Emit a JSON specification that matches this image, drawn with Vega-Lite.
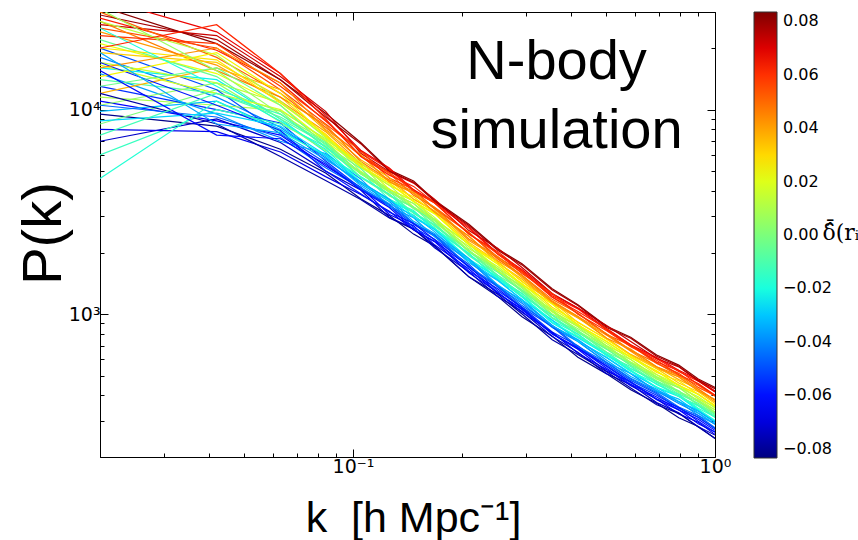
{
"$schema": "https://vega.github.io/schema/vega-lite/v6.json",
"width": 615,
"height": 445,
"autosize": {"type": "none"},
"padding": {"left": 100, "top": 12, "right": 143, "bottom": 83},
"background": "white",
"config": {"view": {"stroke": null}, "font": "DejaVu Sans"},
"datasets": {
"lines": [
{"s":1,"d":-0.082},{"s":2,"d":0.082},{"s":3,"d":-0.041},{"s":4,"d":0.041},{"s":5,"d":0},{"s":6,"d":-0.064},{"s":7,"d":0.064},{"s":8,"d":-0.023},{"s":9,"d":0.023},{"s":10,"d":-0.073},{"s":11,"d":0.073},{"s":12,"d":-0.009},{"s":13,"d":0.009},{"s":14,"d":-0.05},{"s":15,"d":0.05},{"s":16,"d":-0.032},{"s":17,"d":0.032},{"s":18,"d":-0.055},{"s":19,"d":0.055},{"s":20,"d":-0.014},{"s":21,"d":0.014},{"s":22,"d":-0.068},{"s":23,"d":0.068},{"s":24,"d":-0.037},{"s":25,"d":0.037},{"s":26,"d":-0.005},{"s":27,"d":0.005},{"s":28,"d":-0.078},{"s":29,"d":0.078},{"s":30,"d":-0.046},{"s":31,"d":0.046},{"s":32,"d":-0.018},{"s":33,"d":0.018},{"s":34,"d":-0.059},{"s":35,"d":0.059},{"s":36,"d":-0.028},{"s":37,"d":0.028},{"s":38,"d":0.012},{"s":39,"d":-0.003},{"s":40,"d":0.025},{"s":41,"d":-0.02},{"s":42,"d":0.043},{"s":43,"d":-0.035},{"s":44,"d":0.006},{"s":45,"d":-0.061},{"s":46,"d":0.062},{"s":47,"d":-0.012}
],
"label": [
{"t":"N-body","k":0.365,"p":14100},
{"t":"simulation","k":0.365,"p":6500}
],
"ctitle": [
{"t":"δ̂̄(rᵢ)","k":1.98,"p":2480}
],
"pk": [
{"s":1,"k":0.02,"p":9500},{"s":1,"k":0.042,"p":8300},{"s":1,"k":0.063,"p":6400},{"s":1,"k":0.084,"p":4900},{"s":1,"k":0.105,"p":3660},{"s":1,"k":0.126,"p":3030},{"s":1,"k":0.147,"p":2460},{"s":1,"k":0.168,"p":2150},{"s":1,"k":0.209,"p":1520},{"s":1,"k":0.251,"p":1220},{"s":1,"k":0.293,"p":970},{"s":1,"k":0.355,"p":780},{"s":1,"k":0.418,"p":615},{"s":1,"k":0.502,"p":510},{"s":1,"k":0.585,"p":426},{"s":1,"k":0.69,"p":366},{"s":1,"k":0.794,"p":311},{"s":1,"k":0.899,"p":282},{"s":1,"k":1,"p":246},
{"s":2,"k":0.02,"p":32000},{"s":2,"k":0.042,"p":21000},{"s":2,"k":0.063,"p":14000},{"s":2,"k":0.084,"p":9600},{"s":2,"k":0.105,"p":6900},{"s":2,"k":0.126,"p":5070},{"s":2,"k":0.147,"p":4470},{"s":2,"k":0.168,"p":3600},{"s":2,"k":0.209,"p":2750},{"s":2,"k":0.251,"p":2080},{"s":2,"k":0.293,"p":1760},{"s":2,"k":0.355,"p":1330},{"s":2,"k":0.418,"p":1110},{"s":2,"k":0.502,"p":871},{"s":2,"k":0.585,"p":771},{"s":2,"k":0.69,"p":631},{"s":2,"k":0.794,"p":563},{"s":2,"k":0.899,"p":481},{"s":2,"k":1,"p":438},
{"s":3,"k":0.02,"p":18000},{"s":3,"k":0.042,"p":11500},{"s":3,"k":0.063,"p":8200},{"s":3,"k":0.084,"p":5800},{"s":3,"k":0.105,"p":4340},{"s":3,"k":0.126,"p":3550},{"s":3,"k":0.147,"p":2780},{"s":3,"k":0.168,"p":2430},{"s":3,"k":0.209,"p":1830},{"s":3,"k":0.251,"p":1360},{"s":3,"k":0.293,"p":1130},{"s":3,"k":0.355,"p":859},{"s":3,"k":0.418,"p":735},{"s":3,"k":0.502,"p":582},{"s":3,"k":0.585,"p":485},{"s":3,"k":0.69,"p":421},{"s":3,"k":0.794,"p":365},{"s":3,"k":0.899,"p":327},{"s":3,"k":1,"p":289},
{"s":4,"k":0.02,"p":24000},{"s":4,"k":0.042,"p":16500},{"s":4,"k":0.063,"p":11000},{"s":4,"k":0.084,"p":7800},{"s":4,"k":0.105,"p":5470},{"s":4,"k":0.126,"p":4450},{"s":4,"k":0.147,"p":3920},{"s":4,"k":0.168,"p":3260},{"s":4,"k":0.209,"p":2290},{"s":4,"k":0.251,"p":1880},{"s":4,"k":0.293,"p":1510},{"s":4,"k":0.355,"p":1130},{"s":4,"k":0.418,"p":956},{"s":4,"k":0.502,"p":787},{"s":4,"k":0.585,"p":657},{"s":4,"k":0.69,"p":542},{"s":4,"k":0.794,"p":494},{"s":4,"k":0.899,"p":422},{"s":4,"k":1,"p":372},
{"s":5,"k":0.02,"p":8500},{"s":5,"k":0.042,"p":12500},{"s":5,"k":0.063,"p":9800},{"s":5,"k":0.084,"p":6500},{"s":5,"k":0.105,"p":4850},{"s":5,"k":0.126,"p":4020},{"s":5,"k":0.147,"p":3270},{"s":5,"k":0.168,"p":2860},{"s":5,"k":0.209,"p":2010},{"s":5,"k":0.251,"p":1620},{"s":5,"k":0.293,"p":1290},{"s":5,"k":0.355,"p":1030},{"s":5,"k":0.418,"p":813},{"s":5,"k":0.502,"p":677},{"s":5,"k":0.585,"p":564},{"s":5,"k":0.69,"p":485},{"s":5,"k":0.794,"p":412},{"s":5,"k":0.899,"p":374},{"s":5,"k":1,"p":327},
{"s":6,"k":0.02,"p":11000},{"s":6,"k":0.042,"p":8800},{"s":6,"k":0.063,"p":7500},{"s":6,"k":0.084,"p":5300},{"s":6,"k":0.105,"p":4170},{"s":6,"k":0.126,"p":3070},{"s":6,"k":0.147,"p":2700},{"s":6,"k":0.168,"p":2180},{"s":6,"k":0.209,"p":1660},{"s":6,"k":0.251,"p":1260},{"s":6,"k":0.293,"p":1060},{"s":6,"k":0.355,"p":802},{"s":6,"k":0.418,"p":673},{"s":6,"k":0.502,"p":526},{"s":6,"k":0.585,"p":466},{"s":6,"k":0.69,"p":381},{"s":6,"k":0.794,"p":340},{"s":6,"k":0.899,"p":291},{"s":6,"k":1,"p":265},
{"s":7,"k":0.02,"p":28000},{"s":7,"k":0.042,"p":19500},{"s":7,"k":0.063,"p":13500},{"s":7,"k":0.084,"p":8800},{"s":7,"k":0.105,"p":6240},{"s":7,"k":0.126,"p":5110},{"s":7,"k":0.147,"p":3990},{"s":7,"k":0.168,"p":3490},{"s":7,"k":0.209,"p":2630},{"s":7,"k":0.251,"p":1960},{"s":7,"k":0.293,"p":1620},{"s":7,"k":0.355,"p":1230},{"s":7,"k":0.418,"p":1060},{"s":7,"k":0.502,"p":835},{"s":7,"k":0.585,"p":697},{"s":7,"k":0.69,"p":605},{"s":7,"k":0.794,"p":524},{"s":7,"k":0.899,"p":470},{"s":7,"k":1,"p":416},
{"s":8,"k":0.02,"p":16000},{"s":8,"k":0.042,"p":14000},{"s":8,"k":0.063,"p":9000},{"s":8,"k":0.084,"p":6200},{"s":8,"k":0.105,"p":4390},{"s":8,"k":0.126,"p":3570},{"s":8,"k":0.147,"p":3140},{"s":8,"k":0.168,"p":2610},{"s":8,"k":0.209,"p":1840},{"s":8,"k":0.251,"p":1510},{"s":8,"k":0.293,"p":1210},{"s":8,"k":0.355,"p":905},{"s":8,"k":0.418,"p":767},{"s":8,"k":0.502,"p":631},{"s":8,"k":0.585,"p":527},{"s":8,"k":0.69,"p":435},{"s":8,"k":0.794,"p":396},{"s":8,"k":0.899,"p":339},{"s":8,"k":1,"p":299},
{"s":9,"k":0.02,"p":21000},{"s":9,"k":0.042,"p":15000},{"s":9,"k":0.063,"p":10500},{"s":9,"k":0.084,"p":7000},{"s":9,"k":0.105,"p":5250},{"s":9,"k":0.126,"p":4350},{"s":9,"k":0.147,"p":3540},{"s":9,"k":0.168,"p":3090},{"s":9,"k":0.209,"p":2180},{"s":9,"k":0.251,"p":1750},{"s":9,"k":0.293,"p":1390},{"s":9,"k":0.355,"p":1120},{"s":9,"k":0.418,"p":881},{"s":9,"k":0.502,"p":733},{"s":9,"k":0.585,"p":611},{"s":9,"k":0.69,"p":525},{"s":9,"k":0.794,"p":446},{"s":9,"k":0.899,"p":405},{"s":9,"k":1,"p":353},
{"s":10,"k":0.02,"p":7000},{"s":10,"k":0.042,"p":9000},{"s":10,"k":0.063,"p":6900},{"s":10,"k":0.084,"p":5000},{"s":10,"k":0.105,"p":4040},{"s":10,"k":0.126,"p":2970},{"s":10,"k":0.147,"p":2620},{"s":10,"k":0.168,"p":2110},{"s":10,"k":0.209,"p":1610},{"s":10,"k":0.251,"p":1220},{"s":10,"k":0.293,"p":1030},{"s":10,"k":0.355,"p":777},{"s":10,"k":0.418,"p":651},{"s":10,"k":0.502,"p":511},{"s":10,"k":0.585,"p":452},{"s":10,"k":0.69,"p":369},{"s":10,"k":0.794,"p":329},{"s":10,"k":0.899,"p":281},{"s":10,"k":1,"p":256},
{"s":11,"k":0.02,"p":26000},{"s":11,"k":0.042,"p":23000},{"s":11,"k":0.063,"p":14500},{"s":11,"k":0.084,"p":9800},{"s":11,"k":0.105,"p":6110},{"s":11,"k":0.126,"p":4970},{"s":11,"k":0.147,"p":4370},{"s":11,"k":0.168,"p":3640},{"s":11,"k":0.209,"p":2560},{"s":11,"k":0.251,"p":2100},{"s":11,"k":0.293,"p":1690},{"s":11,"k":0.355,"p":1260},{"s":11,"k":0.418,"p":1070},{"s":11,"k":0.502,"p":879},{"s":11,"k":0.585,"p":734},{"s":11,"k":0.69,"p":606},{"s":11,"k":0.794,"p":552},{"s":11,"k":0.899,"p":471},{"s":11,"k":1,"p":417},
{"s":12,"k":0.02,"p":14000},{"s":12,"k":0.042,"p":12000},{"s":12,"k":0.063,"p":9200},{"s":12,"k":0.084,"p":6900},{"s":12,"k":0.105,"p":4850},{"s":12,"k":0.126,"p":3970},{"s":12,"k":0.147,"p":3100},{"s":12,"k":0.168,"p":2710},{"s":12,"k":0.209,"p":2050},{"s":12,"k":0.251,"p":1520},{"s":12,"k":0.293,"p":1260},{"s":12,"k":0.355,"p":959},{"s":12,"k":0.418,"p":820},{"s":12,"k":0.502,"p":649},{"s":12,"k":0.585,"p":541},{"s":12,"k":0.69,"p":470},{"s":12,"k":0.794,"p":407},{"s":12,"k":0.899,"p":366},{"s":12,"k":1,"p":323},
{"s":13,"k":0.02,"p":11500},{"s":13,"k":0.042,"p":10500},{"s":13,"k":0.063,"p":9900},{"s":13,"k":0.084,"p":7200},{"s":13,"k":0.105,"p":5370},{"s":13,"k":0.126,"p":3940},{"s":13,"k":0.147,"p":3470},{"s":13,"k":0.168,"p":2800},{"s":13,"k":0.209,"p":2140},{"s":13,"k":0.251,"p":1620},{"s":13,"k":0.293,"p":1370},{"s":13,"k":0.355,"p":1030},{"s":13,"k":0.418,"p":866},{"s":13,"k":0.502,"p":677},{"s":13,"k":0.585,"p":600},{"s":13,"k":0.69,"p":490},{"s":13,"k":0.794,"p":437},{"s":13,"k":0.899,"p":374},{"s":13,"k":1,"p":341},
{"s":14,"k":0.02,"p":20000},{"s":14,"k":0.042,"p":12500},{"s":14,"k":0.063,"p":7600},{"s":14,"k":0.084,"p":5500},{"s":14,"k":0.105,"p":4080},{"s":14,"k":0.126,"p":3380},{"s":14,"k":0.147,"p":2750},{"s":14,"k":0.168,"p":2400},{"s":14,"k":0.209,"p":1690},{"s":14,"k":0.251,"p":1360},{"s":14,"k":0.293,"p":1080},{"s":14,"k":0.355,"p":866},{"s":14,"k":0.418,"p":684},{"s":14,"k":0.502,"p":569},{"s":14,"k":0.585,"p":474},{"s":14,"k":0.69,"p":408},{"s":14,"k":0.794,"p":346},{"s":14,"k":0.899,"p":314},{"s":14,"k":1,"p":275},
{"s":15,"k":0.02,"p":30000},{"s":15,"k":0.042,"p":18000},{"s":15,"k":0.063,"p":12000},{"s":15,"k":0.084,"p":8200},{"s":15,"k":0.105,"p":5950},{"s":15,"k":0.126,"p":4870},{"s":15,"k":0.147,"p":3810},{"s":15,"k":0.168,"p":3330},{"s":15,"k":0.209,"p":2510},{"s":15,"k":0.251,"p":1860},{"s":15,"k":0.293,"p":1550},{"s":15,"k":0.355,"p":1180},{"s":15,"k":0.418,"p":1010},{"s":15,"k":0.502,"p":797},{"s":15,"k":0.585,"p":664},{"s":15,"k":0.69,"p":577},{"s":15,"k":0.794,"p":499},{"s":15,"k":0.899,"p":449},{"s":15,"k":1,"p":396},
{"s":16,"k":0.02,"p":9800},{"s":16,"k":0.042,"p":11000},{"s":16,"k":0.063,"p":8000},{"s":16,"k":0.084,"p":5900},{"s":16,"k":0.105,"p":4250},{"s":16,"k":0.126,"p":3460},{"s":16,"k":0.147,"p":3040},{"s":16,"k":0.168,"p":2530},{"s":16,"k":0.209,"p":1780},{"s":16,"k":0.251,"p":1460},{"s":16,"k":0.293,"p":1180},{"s":16,"k":0.355,"p":877},{"s":16,"k":0.418,"p":743},{"s":16,"k":0.502,"p":612},{"s":16,"k":0.585,"p":510},{"s":16,"k":0.69,"p":421},{"s":16,"k":0.794,"p":384},{"s":16,"k":0.899,"p":328},{"s":16,"k":1,"p":289},
{"s":17,"k":0.02,"p":19000},{"s":17,"k":0.042,"p":17000},{"s":17,"k":0.063,"p":11500},{"s":17,"k":0.084,"p":7500},{"s":17,"k":0.105,"p":5420},{"s":17,"k":0.126,"p":4490},{"s":17,"k":0.147,"p":3650},{"s":17,"k":0.168,"p":3190},{"s":17,"k":0.209,"p":2240},{"s":17,"k":0.251,"p":1800},{"s":17,"k":0.293,"p":1440},{"s":17,"k":0.355,"p":1150},{"s":17,"k":0.418,"p":909},{"s":17,"k":0.502,"p":755},{"s":17,"k":0.585,"p":631},{"s":17,"k":0.69,"p":541},{"s":17,"k":0.794,"p":460},{"s":17,"k":0.899,"p":417},{"s":17,"k":1,"p":365},
{"s":18,"k":0.02,"p":13000},{"s":18,"k":0.042,"p":10000},{"s":18,"k":0.063,"p":8600},{"s":18,"k":0.084,"p":5600},{"s":18,"k":0.105,"p":4140},{"s":18,"k":0.126,"p":3390},{"s":18,"k":0.147,"p":2650},{"s":18,"k":0.168,"p":2320},{"s":18,"k":0.209,"p":1750},{"s":18,"k":0.251,"p":1300},{"s":18,"k":0.293,"p":1080},{"s":18,"k":0.355,"p":818},{"s":18,"k":0.418,"p":700},{"s":18,"k":0.502,"p":554},{"s":18,"k":0.585,"p":462},{"s":18,"k":0.69,"p":401},{"s":18,"k":0.794,"p":347},{"s":18,"k":0.899,"p":312},{"s":18,"k":1,"p":276},
{"s":19,"k":0.02,"p":25000},{"s":19,"k":0.042,"p":20000},{"s":19,"k":0.063,"p":12500},{"s":19,"k":0.084,"p":8500},{"s":19,"k":0.105,"p":6290},{"s":19,"k":0.126,"p":4620},{"s":19,"k":0.147,"p":4070},{"s":19,"k":0.168,"p":3280},{"s":19,"k":0.209,"p":2500},{"s":19,"k":0.251,"p":1900},{"s":19,"k":0.293,"p":1600},{"s":19,"k":0.355,"p":1210},{"s":19,"k":0.418,"p":1010},{"s":19,"k":0.502,"p":794},{"s":19,"k":0.585,"p":703},{"s":19,"k":0.69,"p":574},{"s":19,"k":0.794,"p":513},{"s":19,"k":0.899,"p":438},{"s":19,"k":1,"p":399},
{"s":20,"k":0.02,"p":6000},{"s":20,"k":0.042,"p":10000},{"s":20,"k":0.063,"p":8500},{"s":20,"k":0.084,"p":6600},{"s":20,"k":0.105,"p":4960},{"s":20,"k":0.126,"p":3640},{"s":20,"k":0.147,"p":3210},{"s":20,"k":0.168,"p":2590},{"s":20,"k":0.209,"p":1970},{"s":20,"k":0.251,"p":1490},{"s":20,"k":0.293,"p":1260},{"s":20,"k":0.355,"p":953},{"s":20,"k":0.418,"p":799},{"s":20,"k":0.502,"p":626},{"s":20,"k":0.585,"p":554},{"s":20,"k":0.69,"p":452},{"s":20,"k":0.794,"p":404},{"s":20,"k":0.899,"p":346},{"s":20,"k":1,"p":314},
{"s":21,"k":0.02,"p":17000},{"s":21,"k":0.042,"p":13500},{"s":21,"k":0.063,"p":10800},{"s":21,"k":0.084,"p":7400},{"s":21,"k":0.105,"p":4990},{"s":21,"k":0.126,"p":4050},{"s":21,"k":0.147,"p":3570},{"s":21,"k":0.168,"p":2970},{"s":21,"k":0.209,"p":2090},{"s":21,"k":0.251,"p":1710},{"s":21,"k":0.293,"p":1380},{"s":21,"k":0.355,"p":1030},{"s":21,"k":0.418,"p":872},{"s":21,"k":0.502,"p":718},{"s":21,"k":0.585,"p":599},{"s":21,"k":0.69,"p":494},{"s":21,"k":0.794,"p":450},{"s":21,"k":0.899,"p":385},{"s":21,"k":1,"p":340},
{"s":22,"k":0.02,"p":8000},{"s":22,"k":0.042,"p":7800},{"s":22,"k":0.063,"p":6200},{"s":22,"k":0.084,"p":4700},{"s":22,"k":0.105,"p":3840},{"s":22,"k":0.126,"p":3180},{"s":22,"k":0.147,"p":2580},{"s":22,"k":0.168,"p":2260},{"s":22,"k":0.209,"p":1590},{"s":22,"k":0.251,"p":1280},{"s":22,"k":0.293,"p":1020},{"s":22,"k":0.355,"p":815},{"s":22,"k":0.418,"p":644},{"s":22,"k":0.502,"p":535},{"s":22,"k":0.585,"p":446},{"s":22,"k":0.69,"p":384},{"s":22,"k":0.794,"p":325},{"s":22,"k":0.899,"p":296},{"s":22,"k":1,"p":258},
{"s":23,"k":0.02,"p":35000},{"s":23,"k":0.042,"p":24000},{"s":23,"k":0.063,"p":15000},{"s":23,"k":0.084,"p":9400},{"s":23,"k":0.105,"p":6330},{"s":23,"k":0.126,"p":5180},{"s":23,"k":0.147,"p":4050},{"s":23,"k":0.168,"p":3540},{"s":23,"k":0.209,"p":2670},{"s":23,"k":0.251,"p":1980},{"s":23,"k":0.293,"p":1650},{"s":23,"k":0.355,"p":1250},{"s":23,"k":0.418,"p":1070},{"s":23,"k":0.502,"p":848},{"s":23,"k":0.585,"p":707},{"s":23,"k":0.69,"p":613},{"s":23,"k":0.794,"p":531},{"s":23,"k":0.899,"p":477},{"s":23,"k":1,"p":421},
{"s":24,"k":0.02,"p":15000},{"s":24,"k":0.042,"p":9500},{"s":24,"k":0.063,"p":7000},{"s":24,"k":0.084,"p":6100},{"s":24,"k":0.105,"p":4580},{"s":24,"k":0.126,"p":3360},{"s":24,"k":0.147,"p":2960},{"s":24,"k":0.168,"p":2390},{"s":24,"k":0.209,"p":1820},{"s":24,"k":0.251,"p":1380},{"s":24,"k":0.293,"p":1170},{"s":24,"k":0.355,"p":880},{"s":24,"k":0.418,"p":737},{"s":24,"k":0.502,"p":578},{"s":24,"k":0.585,"p":512},{"s":24,"k":0.69,"p":418},{"s":24,"k":0.794,"p":374},{"s":24,"k":0.899,"p":319},{"s":24,"k":1,"p":290},
{"s":25,"k":0.02,"p":12000},{"s":25,"k":0.042,"p":16000},{"s":25,"k":0.063,"p":12500},{"s":25,"k":0.084,"p":7900},{"s":25,"k":0.105,"p":5690},{"s":25,"k":0.126,"p":4660},{"s":25,"k":0.147,"p":3640},{"s":25,"k":0.168,"p":3180},{"s":25,"k":0.209,"p":2400},{"s":25,"k":0.251,"p":1780},{"s":25,"k":0.293,"p":1480},{"s":25,"k":0.355,"p":1130},{"s":25,"k":0.418,"p":963},{"s":25,"k":0.502,"p":762},{"s":25,"k":0.585,"p":635},{"s":25,"k":0.69,"p":551},{"s":25,"k":0.794,"p":478},{"s":25,"k":0.899,"p":429},{"s":25,"k":1,"p":379},
{"s":26,"k":0.02,"p":22000},{"s":26,"k":0.042,"p":14500},{"s":26,"k":0.063,"p":9000},{"s":26,"k":0.084,"p":6800},{"s":26,"k":0.105,"p":4670},{"s":26,"k":0.126,"p":3800},{"s":26,"k":0.147,"p":3340},{"s":26,"k":0.168,"p":2780},{"s":26,"k":0.209,"p":1950},{"s":26,"k":0.251,"p":1600},{"s":26,"k":0.293,"p":1290},{"s":26,"k":0.355,"p":963},{"s":26,"k":0.418,"p":816},{"s":26,"k":0.502,"p":672},{"s":26,"k":0.585,"p":560},{"s":26,"k":0.69,"p":463},{"s":26,"k":0.794,"p":421},{"s":26,"k":0.899,"p":360},{"s":26,"k":1,"p":318},
{"s":27,"k":0.02,"p":10500},{"s":27,"k":0.042,"p":13500},{"s":27,"k":0.063,"p":8700},{"s":27,"k":0.084,"p":6300},{"s":27,"k":0.105,"p":4930},{"s":27,"k":0.126,"p":4090},{"s":27,"k":0.147,"p":3320},{"s":27,"k":0.168,"p":2900},{"s":27,"k":0.209,"p":2040},{"s":27,"k":0.251,"p":1640},{"s":27,"k":0.293,"p":1310},{"s":27,"k":0.355,"p":1050},{"s":27,"k":0.418,"p":827},{"s":27,"k":0.502,"p":688},{"s":27,"k":0.585,"p":574},{"s":27,"k":0.69,"p":493},{"s":27,"k":0.794,"p":418},{"s":27,"k":0.899,"p":380},{"s":27,"k":1,"p":332},
{"s":28,"k":0.02,"p":12000},{"s":28,"k":0.042,"p":8500},{"s":28,"k":0.063,"p":5900},{"s":28,"k":0.084,"p":4500},{"s":28,"k":0.105,"p":3630},{"s":28,"k":0.126,"p":2950},{"s":28,"k":0.147,"p":2600},{"s":28,"k":0.168,"p":2160},{"s":28,"k":0.209,"p":1520},{"s":28,"k":0.251,"p":1250},{"s":28,"k":0.293,"p":1000},{"s":28,"k":0.355,"p":749},{"s":28,"k":0.418,"p":634},{"s":28,"k":0.502,"p":522},{"s":28,"k":0.585,"p":435},{"s":28,"k":0.69,"p":360},{"s":28,"k":0.794,"p":327},{"s":28,"k":0.899,"p":280},{"s":28,"k":1,"p":247},
{"s":29,"k":0.02,"p":29000},{"s":29,"k":0.042,"p":22000},{"s":29,"k":0.063,"p":14000},{"s":29,"k":0.084,"p":9200},{"s":29,"k":0.105,"p":6810},{"s":29,"k":0.126,"p":5000},{"s":29,"k":0.147,"p":4410},{"s":29,"k":0.168,"p":3560},{"s":29,"k":0.209,"p":2710},{"s":29,"k":0.251,"p":2050},{"s":29,"k":0.293,"p":1740},{"s":29,"k":0.355,"p":1310},{"s":29,"k":0.418,"p":1100},{"s":29,"k":0.502,"p":859},{"s":29,"k":0.585,"p":761},{"s":29,"k":0.69,"p":622},{"s":29,"k":0.794,"p":556},{"s":29,"k":0.899,"p":474},{"s":29,"k":1,"p":432},
{"s":30,"k":0.02,"p":10500},{"s":30,"k":0.042,"p":9200},{"s":30,"k":0.063,"p":7300},{"s":30,"k":0.084,"p":5200},{"s":30,"k":0.105,"p":4140},{"s":30,"k":0.126,"p":3430},{"s":30,"k":0.147,"p":2790},{"s":30,"k":0.168,"p":2440},{"s":30,"k":0.209,"p":1710},{"s":30,"k":0.251,"p":1380},{"s":30,"k":0.293,"p":1100},{"s":30,"k":0.355,"p":879},{"s":30,"k":0.418,"p":694},{"s":30,"k":0.502,"p":578},{"s":30,"k":0.585,"p":481},{"s":30,"k":0.69,"p":413},{"s":30,"k":0.794,"p":351},{"s":30,"k":0.899,"p":319},{"s":30,"k":1,"p":278},
{"s":31,"k":0.02,"p":27000},{"s":31,"k":0.042,"p":15500},{"s":31,"k":0.063,"p":11500},{"s":31,"k":0.084,"p":8400},{"s":31,"k":0.105,"p":5570},{"s":31,"k":0.126,"p":4530},{"s":31,"k":0.147,"p":3980},{"s":31,"k":0.168,"p":3310},{"s":31,"k":0.209,"p":2330},{"s":31,"k":0.251,"p":1910},{"s":31,"k":0.293,"p":1540},{"s":31,"k":0.355,"p":1150},{"s":31,"k":0.418,"p":973},{"s":31,"k":0.502,"p":801},{"s":31,"k":0.585,"p":668},{"s":31,"k":0.69,"p":552},{"s":31,"k":0.794,"p":502},{"s":31,"k":0.899,"p":430},{"s":31,"k":1,"p":379},
{"s":32,"k":0.02,"p":4600},{"s":32,"k":0.042,"p":11000},{"s":32,"k":0.063,"p":7800},{"s":32,"k":0.084,"p":6000},{"s":32,"k":0.105,"p":4700},{"s":32,"k":0.126,"p":3850},{"s":32,"k":0.147,"p":3010},{"s":32,"k":0.168,"p":2630},{"s":32,"k":0.209,"p":1980},{"s":32,"k":0.251,"p":1470},{"s":32,"k":0.293,"p":1220},{"s":32,"k":0.355,"p":930},{"s":32,"k":0.418,"p":796},{"s":32,"k":0.502,"p":630},{"s":32,"k":0.585,"p":525},{"s":32,"k":0.69,"p":456},{"s":32,"k":0.794,"p":395},{"s":32,"k":0.899,"p":355},{"s":32,"k":1,"p":313},
{"s":33,"k":0.02,"p":16500},{"s":33,"k":0.042,"p":12000},{"s":33,"k":0.063,"p":10000},{"s":33,"k":0.084,"p":7100},{"s":33,"k":0.105,"p":5530},{"s":33,"k":0.126,"p":4070},{"s":33,"k":0.147,"p":3580},{"s":33,"k":0.168,"p":2890},{"s":33,"k":0.209,"p":2200},{"s":33,"k":0.251,"p":1670},{"s":33,"k":0.293,"p":1410},{"s":33,"k":0.355,"p":1060},{"s":33,"k":0.418,"p":892},{"s":33,"k":0.502,"p":699},{"s":33,"k":0.585,"p":618},{"s":33,"k":0.69,"p":506},{"s":33,"k":0.794,"p":451},{"s":33,"k":0.899,"p":386},{"s":33,"k":1,"p":351},
{"s":34,"k":0.02,"p":17000},{"s":34,"k":0.042,"p":10500},{"s":34,"k":0.063,"p":7900},{"s":34,"k":0.084,"p":5000},{"s":34,"k":0.105,"p":3880},{"s":34,"k":0.126,"p":3150},{"s":34,"k":0.147,"p":2770},{"s":34,"k":0.168,"p":2310},{"s":34,"k":0.209,"p":1620},{"s":34,"k":0.251,"p":1330},{"s":34,"k":0.293,"p":1070},{"s":34,"k":0.355,"p":799},{"s":34,"k":0.418,"p":677},{"s":34,"k":0.502,"p":558},{"s":34,"k":0.585,"p":465},{"s":34,"k":0.69,"p":384},{"s":34,"k":0.794,"p":350},{"s":34,"k":0.899,"p":299},{"s":34,"k":1,"p":264},
{"s":35,"k":0.02,"p":23000},{"s":35,"k":0.042,"p":21000},{"s":35,"k":0.063,"p":13000},{"s":35,"k":0.084,"p":8900},{"s":35,"k":0.105,"p":5950},{"s":35,"k":0.126,"p":4920},{"s":35,"k":0.147,"p":4010},{"s":35,"k":0.168,"p":3500},{"s":35,"k":0.209,"p":2460},{"s":35,"k":0.251,"p":1980},{"s":35,"k":0.293,"p":1580},{"s":35,"k":0.355,"p":1260},{"s":35,"k":0.418,"p":998},{"s":35,"k":0.502,"p":829},{"s":35,"k":0.585,"p":692},{"s":35,"k":0.69,"p":594},{"s":35,"k":0.794,"p":505},{"s":35,"k":0.899,"p":458},{"s":35,"k":1,"p":401},
{"s":36,"k":0.02,"p":8800},{"s":36,"k":0.042,"p":9600},{"s":36,"k":0.063,"p":8300},{"s":36,"k":0.084,"p":6000},{"s":36,"k":0.105,"p":4400},{"s":36,"k":0.126,"p":3650},{"s":36,"k":0.147,"p":2970},{"s":36,"k":0.168,"p":2590},{"s":36,"k":0.209,"p":1820},{"s":36,"k":0.251,"p":1470},{"s":36,"k":0.293,"p":1170},{"s":36,"k":0.355,"p":935},{"s":36,"k":0.418,"p":739},{"s":36,"k":0.502,"p":614},{"s":36,"k":0.585,"p":513},{"s":36,"k":0.69,"p":440},{"s":36,"k":0.794,"p":373},{"s":36,"k":0.899,"p":339},{"s":36,"k":1,"p":297},
{"s":37,"k":0.02,"p":20000},{"s":37,"k":0.042,"p":17500},{"s":37,"k":0.063,"p":10800},{"s":37,"k":0.084,"p":7600},{"s":37,"k":0.105,"p":5230},{"s":37,"k":0.126,"p":4250},{"s":37,"k":0.147,"p":3750},{"s":37,"k":0.168,"p":3120},{"s":37,"k":0.209,"p":2190},{"s":37,"k":0.251,"p":1800},{"s":37,"k":0.293,"p":1450},{"s":37,"k":0.355,"p":1080},{"s":37,"k":0.418,"p":915},{"s":37,"k":0.502,"p":753},{"s":37,"k":0.585,"p":628},{"s":37,"k":0.69,"p":518},{"s":37,"k":0.794,"p":472},{"s":37,"k":0.899,"p":404},{"s":37,"k":1,"p":357},
{"s":38,"k":0.02,"p":27000},{"s":38,"k":0.042,"p":18500},{"s":38,"k":0.063,"p":11000},{"s":38,"k":0.084,"p":7300},{"s":38,"k":0.105,"p":5210},{"s":38,"k":0.126,"p":4270},{"s":38,"k":0.147,"p":3340},{"s":38,"k":0.168,"p":2920},{"s":38,"k":0.209,"p":2200},{"s":38,"k":0.251,"p":1630},{"s":38,"k":0.293,"p":1360},{"s":38,"k":0.355,"p":1030},{"s":38,"k":0.418,"p":882},{"s":38,"k":0.502,"p":698},{"s":38,"k":0.585,"p":582},{"s":38,"k":0.69,"p":505},{"s":38,"k":0.794,"p":438},{"s":38,"k":0.899,"p":394},{"s":38,"k":1,"p":347},
{"s":39,"k":0.02,"p":13000},{"s":39,"k":0.042,"p":16000},{"s":39,"k":0.063,"p":10500},{"s":39,"k":0.084,"p":6700},{"s":39,"k":0.105,"p":5150},{"s":39,"k":0.126,"p":3780},{"s":39,"k":0.147,"p":3330},{"s":39,"k":0.168,"p":2690},{"s":39,"k":0.209,"p":2050},{"s":39,"k":0.251,"p":1550},{"s":39,"k":0.293,"p":1310},{"s":39,"k":0.355,"p":990},{"s":39,"k":0.418,"p":830},{"s":39,"k":0.502,"p":650},{"s":39,"k":0.585,"p":575},{"s":39,"k":0.69,"p":470},{"s":39,"k":0.794,"p":420},{"s":39,"k":0.899,"p":359},{"s":39,"k":1,"p":327},
{"s":40,"k":0.02,"p":14500},{"s":40,"k":0.042,"p":19000},{"s":40,"k":0.063,"p":12000},{"s":40,"k":0.084,"p":7400},{"s":40,"k":0.105,"p":5290},{"s":40,"k":0.126,"p":4380},{"s":40,"k":0.147,"p":3560},{"s":40,"k":0.168,"p":3110},{"s":40,"k":0.209,"p":2190},{"s":40,"k":0.251,"p":1760},{"s":40,"k":0.293,"p":1400},{"s":40,"k":0.355,"p":1120},{"s":40,"k":0.418,"p":887},{"s":40,"k":0.502,"p":737},{"s":40,"k":0.585,"p":615},{"s":40,"k":0.69,"p":528},{"s":40,"k":0.794,"p":449},{"s":40,"k":0.899,"p":407},{"s":40,"k":1,"p":356},
{"s":41,"k":0.02,"p":25000},{"s":41,"k":0.042,"p":13000},{"s":41,"k":0.063,"p":8800},{"s":41,"k":0.084,"p":6400},{"s":41,"k":0.105,"p":4430},{"s":41,"k":0.126,"p":3600},{"s":41,"k":0.147,"p":3170},{"s":41,"k":0.168,"p":2640},{"s":41,"k":0.209,"p":1860},{"s":41,"k":0.251,"p":1520},{"s":41,"k":0.293,"p":1230},{"s":41,"k":0.355,"p":914},{"s":41,"k":0.418,"p":774},{"s":41,"k":0.502,"p":638},{"s":41,"k":0.585,"p":532},{"s":41,"k":0.69,"p":439},{"s":41,"k":0.794,"p":400},{"s":41,"k":0.899,"p":342},{"s":41,"k":1,"p":302},
{"s":42,"k":0.02,"p":16000},{"s":42,"k":0.042,"p":20000},{"s":42,"k":0.063,"p":13500},{"s":42,"k":0.084,"p":8000},{"s":42,"k":0.105,"p":6030},{"s":42,"k":0.126,"p":4430},{"s":42,"k":0.147,"p":3900},{"s":42,"k":0.168,"p":3150},{"s":42,"k":0.209,"p":2400},{"s":42,"k":0.251,"p":1820},{"s":42,"k":0.293,"p":1540},{"s":42,"k":0.355,"p":1160},{"s":42,"k":0.418,"p":973},{"s":42,"k":0.502,"p":761},{"s":42,"k":0.585,"p":674},{"s":42,"k":0.69,"p":551},{"s":42,"k":0.794,"p":492},{"s":42,"k":0.899,"p":420},{"s":42,"k":1,"p":383},
{"s":43,"k":0.02,"p":19000},{"s":43,"k":0.042,"p":8500},{"s":43,"k":0.063,"p":7700},{"s":43,"k":0.084,"p":5700},{"s":43,"k":0.105,"p":4430},{"s":43,"k":0.126,"p":3630},{"s":43,"k":0.147,"p":2840},{"s":43,"k":0.168,"p":2480},{"s":43,"k":0.209,"p":1870},{"s":43,"k":0.251,"p":1390},{"s":43,"k":0.293,"p":1150},{"s":43,"k":0.355,"p":877},{"s":43,"k":0.418,"p":750},{"s":43,"k":0.502,"p":594},{"s":43,"k":0.585,"p":495},{"s":43,"k":0.69,"p":429},{"s":43,"k":0.794,"p":372},{"s":43,"k":0.899,"p":335},{"s":43,"k":1,"p":295},
{"s":44,"k":0.02,"p":31000},{"s":44,"k":0.042,"p":15500},{"s":44,"k":0.063,"p":9500},{"s":44,"k":0.084,"p":7000},{"s":44,"k":0.105,"p":4850},{"s":44,"k":0.126,"p":3940},{"s":44,"k":0.147,"p":3470},{"s":44,"k":0.168,"p":2890},{"s":44,"k":0.209,"p":2030},{"s":44,"k":0.251,"p":1670},{"s":44,"k":0.293,"p":1340},{"s":44,"k":0.355,"p":1000},{"s":44,"k":0.418,"p":847},{"s":44,"k":0.502,"p":698},{"s":44,"k":0.585,"p":582},{"s":44,"k":0.69,"p":480},{"s":44,"k":0.794,"p":438},{"s":44,"k":0.899,"p":374},{"s":44,"k":1,"p":330},
{"s":45,"k":0.02,"p":15500},{"s":45,"k":0.042,"p":7500},{"s":45,"k":0.063,"p":7200},{"s":45,"k":0.084,"p":5400},{"s":45,"k":0.105,"p":4050},{"s":45,"k":0.126,"p":3320},{"s":45,"k":0.147,"p":2590},{"s":45,"k":0.168,"p":2270},{"s":45,"k":0.209,"p":1710},{"s":45,"k":0.251,"p":1270},{"s":45,"k":0.293,"p":1050},{"s":45,"k":0.355,"p":802},{"s":45,"k":0.418,"p":685},{"s":45,"k":0.502,"p":543},{"s":45,"k":0.585,"p":453},{"s":45,"k":0.69,"p":393},{"s":45,"k":0.794,"p":340},{"s":45,"k":0.899,"p":306},{"s":45,"k":1,"p":270},
{"s":46,"k":0.02,"p":20000},{"s":46,"k":0.042,"p":26000},{"s":46,"k":0.063,"p":15000},{"s":46,"k":0.084,"p":9000},{"s":46,"k":0.105,"p":5890},{"s":46,"k":0.126,"p":4780},{"s":46,"k":0.147,"p":4210},{"s":46,"k":0.168,"p":3500},{"s":46,"k":0.209,"p":2460},{"s":46,"k":0.251,"p":2020},{"s":46,"k":0.293,"p":1630},{"s":46,"k":0.355,"p":1210},{"s":46,"k":0.418,"p":1030},{"s":46,"k":0.502,"p":847},{"s":46,"k":0.585,"p":706},{"s":46,"k":0.69,"p":583},{"s":46,"k":0.794,"p":530},{"s":46,"k":0.899,"p":453},{"s":46,"k":1,"p":401},
{"s":47,"k":0.02,"p":7500},{"s":47,"k":0.042,"p":12000},{"s":47,"k":0.063,"p":9500},{"s":47,"k":0.084,"p":6600},{"s":47,"k":0.105,"p":4650},{"s":47,"k":0.126,"p":3850},{"s":47,"k":0.147,"p":3130},{"s":47,"k":0.168,"p":2740},{"s":47,"k":0.209,"p":1930},{"s":47,"k":0.251,"p":1550},{"s":47,"k":0.293,"p":1230},{"s":47,"k":0.355,"p":988},{"s":47,"k":0.418,"p":780},{"s":47,"k":0.502,"p":649},{"s":47,"k":0.585,"p":542},{"s":47,"k":0.69,"p":465},{"s":47,"k":0.794,"p":395},{"s":47,"k":0.899,"p":358},{"s":47,"k":1,"p":313}
]
},
"layer": [
{
"data": {"name": "pk"},
"transform": [{"lookup": "s", "from": {"data": {"name": "lines"}, "key": "s", "fields": ["d"]}}],
"mark": {"type": "line", "strokeWidth": 1.2, "clip": true},
"encoding": {
"x": {"field": "k", "type": "quantitative", "scale": {"type": "log", "domain": [0.02, 1], "nice": false},
"axis": {"orient": "bottom", "values": [0.02,0.03,0.04,0.05,0.06,0.07,0.08,0.09,0.1,0.2,0.3,0.4,0.5,0.6,0.7,0.8,0.9,1],
"labelExpr": "datum.value == 0.1 ? '10⁻¹' : (datum.value == 1 ? '10⁰' : '')",
"tickSize": {"condition": {"test": "datum.value == 0.1 || datum.value == 1", "value": -8}, "value": -4},
"labelPadding": 8, "labelFontSize": 19, "labelFont": "DejaVu Sans", "labelColor": "black", "labelOverlap": false, "labelFlush": false,
"grid": false, "domainColor": "black", "tickColor": "black",
"title": "k \u00a0[h Mpc⁻¹]", "titleFont": "Liberation Sans", "titleFontSize": 43, "titleFontWeight": "normal", "titleColor": "black", "titleBaseline": "alphabetic", "titleY": 74, "titleX": 313}},
"y": {"field": "p", "type": "quantitative", "scale": {"type": "log", "domain": [200, 30000], "nice": false},
"axis": {"orient": "left", "values": [200,300,400,500,600,700,800,900,1000,2000,3000,4000,5000,6000,7000,8000,9000,10000,20000,30000],
"labelExpr": "datum.value == 1000 ? '10³' : (datum.value == 10000 ? '10⁴' : '')",
"tickSize": {"condition": {"test": "datum.value == 1000 || datum.value == 10000", "value": -8}, "value": -4},
"labelPadding": 8, "labelFontSize": 19, "labelFont": "DejaVu Sans", "labelColor": "black", "labelOverlap": false, "labelFlush": false,
"grid": false, "domainColor": "black", "tickColor": "black",
"title": "P(k)", "titleFont": "Liberation Sans", "titleFontSize": 56, "titleFontWeight": "normal", "titleColor": "black", "titleBaseline": "alphabetic", "titleAngle": 270, "titleX": -40, "titleY": 221}},
"color": {"field": "d", "type": "quantitative",
"scale": {"type": "linear", "domain": [-0.0835,-0.06513,-0.06263,-0.02672,-0.02505,-0.02088,0.02338,0.02505,0.02672,0.06513,0.06847,0.0835],
"range": ["#000080","#0000ff","#0000ff","#00dbff","#00e5f7","#15ffe2","#efff08","#f7f500","#ffec00","#ff1300","#e80000","#800000"], "interpolate": "rgb"},
"legend": {"orient": "right", "offset": 38, "padding": 0, "direction": "vertical", "gradientLength": 446, "gradientThickness": 23,
"gradientStrokeColor": "#333333", "gradientStrokeWidth": 1,
"values": [-0.08,-0.06,-0.04,-0.02,0,0.02,0.04,0.06,0.08], "format": ".2f",
"labelFont": "DejaVu Sans", "labelFontSize": 16, "labelColor": "black", "labelOffset": 6, "labelOverlap": false, "labelFlush": false,
"title": null}},
"detail": {"field": "s", "type": "nominal"}
}
},
{
"data": {"name": "label"},
"mark": {"type": "text", "font": "Liberation Sans", "fontSize": 56, "align": "center", "baseline": "alphabetic", "color": "black"},
"encoding": {
"x": {"field": "k", "type": "quantitative", "scale": {"type": "log", "domain": [0.02, 1], "nice": false},
"axis": {"orient": "top", "values": [0.02,0.03,0.04,0.05,0.06,0.07,0.08,0.09,0.1,0.2,0.3,0.4,0.5,0.6,0.7,0.8,0.9,1], "labels": false, "title": null, "grid": false,
"tickSize": {"condition": {"test": "datum.value == 0.1 || datum.value == 1", "value": -8}, "value": -4}, "domainColor": "black", "tickColor": "black"}},
"y": {"field": "p", "type": "quantitative", "scale": {"type": "log", "domain": [200, 30000], "nice": false},
"axis": {"orient": "right", "values": [200,300,400,500,600,700,800,900,1000,2000,3000,4000,5000,6000,7000,8000,9000,10000,20000,30000], "labels": false, "title": null, "grid": false,
"tickSize": {"condition": {"test": "datum.value == 1000 || datum.value == 10000", "value": -8}, "value": -4}, "domainColor": "black", "tickColor": "black"}},
"text": {"field": "t", "type": "nominal"}
}
},
{
"data": {"name": "ctitle"},
"mark": {"type": "text", "font": "DejaVu Serif", "fontSize": 22, "align": "left", "baseline": "middle", "color": "black"},
"encoding": {
"x": {"field": "k", "type": "quantitative", "scale": {"type": "log", "domain": [0.02, 1], "nice": false}, "axis": null},
"y": {"field": "p", "type": "quantitative", "scale": {"type": "log", "domain": [200, 30000], "nice": false}, "axis": null},
"text": {"field": "t", "type": "nominal"}
}
}
],
"resolve": {"axis": {"x": "independent", "y": "independent"}}
}
